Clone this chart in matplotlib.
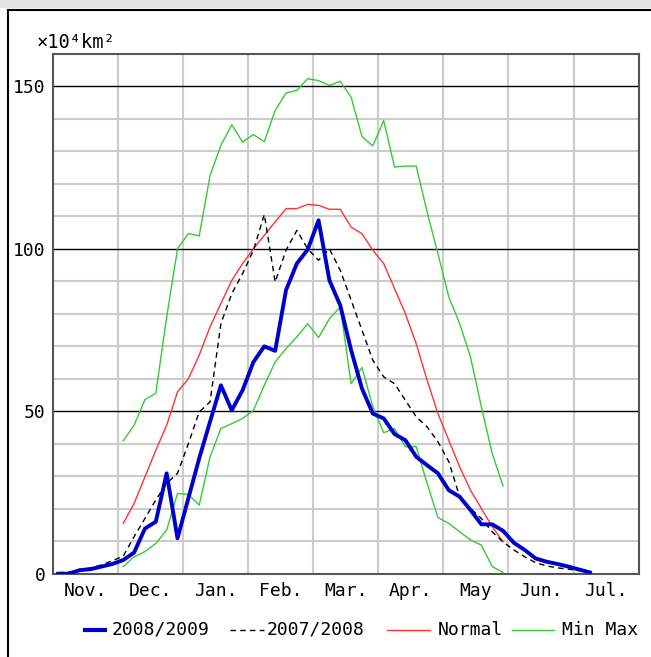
import numpy as np
import matplotlib.pyplot as plt
from matplotlib.lines import Line2D

# pentad series: value k sits at the centre of the k-th 5-day block from Nov. 1
months = ['Nov.', 'Dec.', 'Jan.', 'Feb.', 'Mar.', 'Apr.', 'May', 'Jun.', 'Jul.']

season_0809 = [0, 0, 1.1, 1.4, 2.2, 3.0, 4.2, 6.5, 13.9, 16.0,
               30.9, 10.9, 23.2, 35.5, 46.8, 58.0, 50.3, 56.5, 65.2, 70.0,
               68.6, 87.3, 95.5, 99.8, 108.8, 90.3, 82.6, 68.8, 57.0, 49.3,
               47.8, 43.0, 41.1, 36.0, 33.4, 30.9, 25.7, 23.7, 19.6, 15.2,
               15.2, 13.2, 9.5, 7.3, 4.7, 3.7, 3.0, 2.2, 1.3, 0.4]

season_0708 = [0.3, 0.5, 1.2, 1.8, 2.7, 4.0, 5.4, 11.4, 17.0, 22.7,
               27.8, 30.9, 40.0, 49.8, 52.9, 77.0, 86.2, 92.4, 99.6, 110.6,
               89.8, 99.6, 105.7, 100.0, 96.5, 100.0, 93.4, 84.2, 75.0, 65.7,
               60.6, 58.5, 53.4, 48.3, 45.2, 40.6, 34.5, 23.7, 20.1, 17.0,
               12.9, 9.8, 7.3, 5.2, 3.4, 2.4, 1.8, 1.4, 0.9]

# normal / min / max start at pentad 6 (Dec. 3)
clim_start = 6
normal = [15.5, 21.6, 29.8, 38.0, 45.7, 56.0, 60.0, 67.3, 76.0, 83.2,
          90.3, 95.5, 100.0, 104.2, 108.3, 112.4, 112.4, 113.7, 113.4, 112.2,
          112.2, 106.7, 104.7, 99.6, 95.5, 87.8, 80.0, 70.8, 59.6, 49.3,
          41.1, 32.9, 25.7, 20.1, 14.5, 9.8]

max_line = [40.9, 45.7, 53.6, 55.5, 79.0, 100.0, 104.7, 104.0, 122.6, 131.9,
            138.2, 132.9, 135.2, 133.0, 142.6, 148.0, 148.8, 152.4, 151.8, 150.3,
            151.6, 146.7, 134.6, 131.7, 139.5, 125.2, 125.5, 125.5, 111.4, 98.5,
            85.2, 77.0, 66.7, 51.4, 37.0, 27.0]

min_line = [2.2, 5.2, 6.8, 9.3, 13.4, 24.7, 24.4, 21.1, 36.0, 44.7,
            46.2, 47.8, 50.3, 58.0, 65.2, 69.3, 72.9, 77.0, 72.7, 78.5,
            82.1, 58.5, 63.5, 51.4, 43.4, 44.7, 39.1, 39.1, 27.8, 17.3,
            15.5, 12.9, 10.4, 8.8, 2.2, 0.4]


def pentad_x(n, start=0):
    return (np.arange(start, start + n) + 0.5) / 6.0


plt.rcParams['font.family'] = ['DejaVu Sans Mono', 'DejaVu Sans']
FS = 13
W, H = 651, 657

fig = plt.figure(figsize=(W / 100, H / 100), dpi=100)
ax = fig.add_axes([52.7 / W, 1 - 573.7 / H, 586 / W, (573.7 - 54) / H])

GREEN = '#33cc33'
ax.plot(pentad_x(len(max_line), clim_start), max_line, color=GREEN, lw=1, zorder=3)
ax.plot(pentad_x(len(min_line), clim_start), min_line, color=GREEN, lw=1, zorder=3)
ax.plot(pentad_x(len(normal), clim_start), normal, color='#ff3333', lw=1, zorder=4)
ax.plot(pentad_x(len(season_0708)), season_0708, color='black', lw=1,
        dashes=(4, 3), zorder=5)
ax.plot(pentad_x(len(season_0809)), season_0809, color='#0000cc', lw=2.8, zorder=6)

ax.set_xlim(0, 9)
ax.set_ylim(0, 160)

ax.set_xticks(np.arange(0, 10))
ax.set_xticks(np.arange(0.5, 9), minor=True)
ax.set_xticklabels([])
ax.set_xticklabels(months, minor=True, fontsize=FS)
ax.set_yticks([0, 50, 100, 150])
ax.set_yticks(np.arange(10, 160, 10), minor=True)
ax.set_yticklabels(['0', '50', '100', '150'], fontsize=FS)
ax.tick_params(which='both', length=0)
ax.tick_params(axis='y', pad=5)
ax.tick_params(axis='x', which='minor', pad=6)

ax.xaxis.grid(True, which='major', color='#cccccc', lw=1.5)
ax.yaxis.grid(True, which='minor', color='#cccccc', lw=1.5)
ax.yaxis.grid(True, which='major', color='black', lw=1)
ax.set_axisbelow(True)
for s in ax.spines.values():
    s.set_color('#555555')
    s.set_linewidth(1.5)

fig.text(37 / W, 1 - 43 / H, '×10⁴km²', fontsize=13.5, va='center', ha='left')

# legend drawn by hand, handles have different lengths in the original
legend_y = 1 - 630 / H
items = [((85, 105), 112, '2008/2009', dict(color='#0000cc', lw=3)),
         ((230, 264), 267, '2007/2008', dict(color='black', lw=1, dashes=(4, 3))),
         ((387, 430), 438, 'Normal', dict(color='#ff3333', lw=1)),
         ((512, 554), 562, 'Min Max', dict(color=GREEN, lw=1))]
for (x0, x1), tx, label, style in items:
    fig.add_artist(Line2D([x0 / W, x1 / W], [legend_y, legend_y], **style))
    fig.text(tx / W, legend_y, label, fontsize=FS, va='center', ha='left')

# page frame around the chart
fig.add_artist(plt.Rectangle((0, 1 - 8 / H), 1, 8 / H, color='#e3e3e3', lw=0))
fig.add_artist(Line2D([8 / W, 1], [1 - 9.5 / H, 1 - 9.5 / H], color='black', lw=1.5))
fig.add_artist(Line2D([8 / W, 8 / W], [0, 1 - 9.5 / H], color='black', lw=1.5))

fig.savefig('out.png', dpi=100)
